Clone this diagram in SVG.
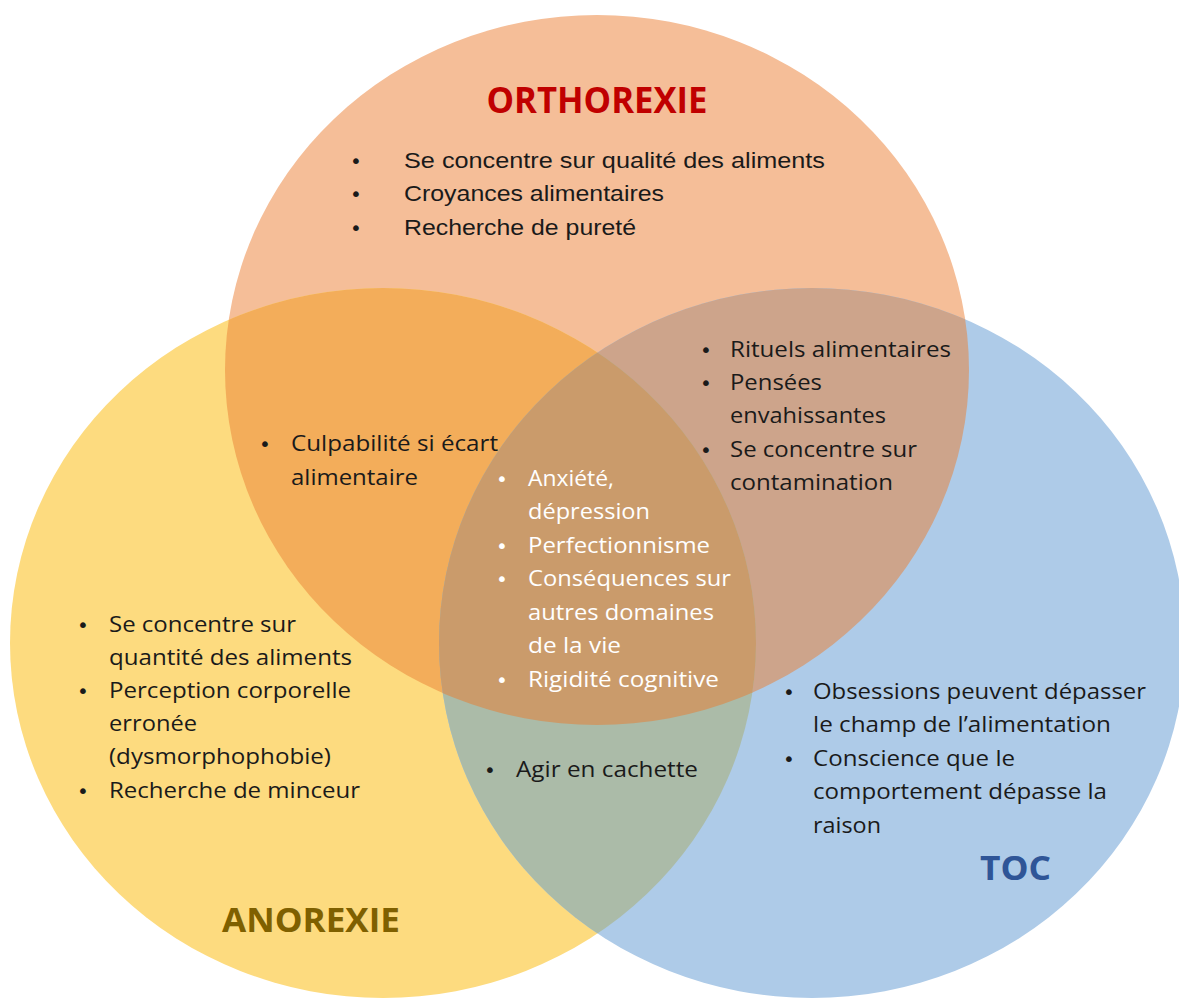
<svg xmlns="http://www.w3.org/2000/svg" width="1179" height="1000" viewBox="0 0 1179 1000">
<style>
.t{font-family:"Open Sans","DejaVu Sans",sans-serif;font-size:21px;fill:#1a1a1a}
.n{font-family:"Liberation Sans",Arial,sans-serif;font-size:22px;fill:#1a1a1a}
.b{font-family:"DejaVu Sans",sans-serif;font-size:20px;fill:#1a1a1a;text-anchor:middle}
.w{fill:#ffffff}
.h{font-family:"Open Sans","DejaVu Sans",sans-serif;font-weight:bold}
</style>
<defs>
<clipPath id="cO"><ellipse cx="597" cy="370" rx="372" ry="355"/></clipPath>
<clipPath id="cY"><ellipse cx="383" cy="643" rx="373" ry="355"/></clipPath>
<clipPath id="cB"><ellipse cx="812" cy="643" rx="373" ry="355"/></clipPath>
</defs>
<rect width="1179" height="1000" fill="#ffffff"/>
<g id="circle-orthorexie"><ellipse cx="597" cy="370" rx="372" ry="355" fill="#F5BE98"/></g>
<g id="circle-anorexie"><ellipse cx="383" cy="643" rx="373" ry="355" fill="#FDDB7F"/></g>
<g id="circle-toc"><ellipse cx="812" cy="643" rx="373" ry="355" fill="#AECBE8"/></g>
<g id="overlaps">
<g clip-path="url(#cO)"><ellipse cx="383" cy="643" rx="373" ry="355" fill="#F3AD5A"/><ellipse cx="812" cy="643" rx="373" ry="355" fill="#CDA48B"/></g>
<g clip-path="url(#cY)"><ellipse cx="812" cy="643" rx="373" ry="355" fill="#ABBBA8"/></g>
<g clip-path="url(#cY)"><g clip-path="url(#cB)"><ellipse cx="597" cy="370" rx="372" ry="355" fill="#CA9B6B"/></g></g>
</g>
<g id="connectors"/>
<g id="label-orthorexie">
<text class="h" x="597" y="113" font-size="36" fill="#C00000" text-anchor="middle" textLength="221" lengthAdjust="spacingAndGlyphs">ORTHOREXIE</text>
<text class="b" x="356" y="168">•</text><text class="n" x="404" y="168" textLength="421" lengthAdjust="spacingAndGlyphs">Se concentre sur qualité des aliments</text>
<text class="b" x="356" y="201">•</text><text class="n" x="404" y="201" textLength="260" lengthAdjust="spacingAndGlyphs">Croyances alimentaires</text>
<text class="b" x="356" y="235">•</text><text class="n" x="404" y="235" textLength="232" lengthAdjust="spacingAndGlyphs">Recherche de pureté</text>
</g>
<g id="label-ortho-toc">
<text class="b" x="706" y="357">•</text><text class="t" x="730" y="357" textLength="221" lengthAdjust="spacingAndGlyphs">Rituels alimentaires</text>
<text class="b" x="706" y="390">•</text><text class="t" x="730" y="390" textLength="92" lengthAdjust="spacingAndGlyphs">Pensées</text>
<text class="t" x="730" y="423" textLength="156" lengthAdjust="spacingAndGlyphs">envahissantes</text>
<text class="b" x="706" y="457">•</text><text class="t" x="730" y="457" textLength="187" lengthAdjust="spacingAndGlyphs">Se concentre sur</text>
<text class="t" x="730" y="490" textLength="163" lengthAdjust="spacingAndGlyphs">contamination</text>
</g>
<g id="label-ortho-anorexie">
<text class="b" x="265" y="451">•</text><text class="t" x="291" y="451" textLength="207" lengthAdjust="spacingAndGlyphs">Culpabilité si écart</text>
<text class="t" x="291" y="485" textLength="127" lengthAdjust="spacingAndGlyphs">alimentaire</text>
</g>
<g id="label-center">
<text class="b w" x="502" y="486">•</text><text class="t w" x="528" y="486" textLength="86" lengthAdjust="spacingAndGlyphs">Anxiété,</text>
<text class="t w" x="528" y="519" textLength="122" lengthAdjust="spacingAndGlyphs">dépression</text>
<text class="b w" x="502" y="553">•</text><text class="t w" x="528" y="553" textLength="182" lengthAdjust="spacingAndGlyphs">Perfectionnisme</text>
<text class="b w" x="502" y="586">•</text><text class="t w" x="528" y="586" textLength="203" lengthAdjust="spacingAndGlyphs">Conséquences sur</text>
<text class="t w" x="528" y="620" textLength="186" lengthAdjust="spacingAndGlyphs">autres domaines</text>
<text class="t w" x="528" y="653" textLength="93" lengthAdjust="spacingAndGlyphs">de la vie</text>
<text class="b w" x="502" y="687">•</text><text class="t w" x="528" y="687" textLength="191" lengthAdjust="spacingAndGlyphs">Rigidité cognitive</text>
</g>
<g id="label-anorexie">
<text class="b" x="83" y="632">•</text><text class="t" x="109" y="632" textLength="187" lengthAdjust="spacingAndGlyphs">Se concentre sur</text>
<text class="t" x="109" y="665" textLength="243" lengthAdjust="spacingAndGlyphs">quantité des aliments</text>
<text class="b" x="83" y="698">•</text><text class="t" x="109" y="698" textLength="242" lengthAdjust="spacingAndGlyphs">Perception corporelle</text>
<text class="t" x="109" y="731" textLength="88" lengthAdjust="spacingAndGlyphs">erronée</text>
<text class="t" x="109" y="764" textLength="222" lengthAdjust="spacingAndGlyphs">(dysmorphophobie)</text>
<text class="b" x="83" y="798">•</text><text class="t" x="109" y="798" textLength="251" lengthAdjust="spacingAndGlyphs">Recherche de minceur</text>
<text class="h" x="222" y="932" font-size="34" fill="#7F6000" textLength="178" lengthAdjust="spacingAndGlyphs">ANOREXIE</text>
</g>
<g id="label-anorexie-toc">
<text class="b" x="490" y="777">•</text><text class="t" x="516" y="777" textLength="182" lengthAdjust="spacingAndGlyphs">Agir en cachette</text>
</g>
<g id="label-toc">
<text class="b" x="789" y="699">•</text><text class="t" x="813" y="699" textLength="333" lengthAdjust="spacingAndGlyphs">Obsessions peuvent dépasser</text>
<text class="t" x="813" y="732" textLength="298" lengthAdjust="spacingAndGlyphs">le champ de l’alimentation</text>
<text class="b" x="789" y="766">•</text><text class="t" x="813" y="766" textLength="202" lengthAdjust="spacingAndGlyphs">Conscience que le</text>
<text class="t" x="813" y="799" textLength="294" lengthAdjust="spacingAndGlyphs">comportement dépasse la</text>
<text class="t" x="813" y="833" textLength="68" lengthAdjust="spacingAndGlyphs">raison</text>
<text class="h" x="980" y="880" font-size="34" fill="#2F5597" textLength="71" lengthAdjust="spacingAndGlyphs">TOC</text>
</g>
</svg>
